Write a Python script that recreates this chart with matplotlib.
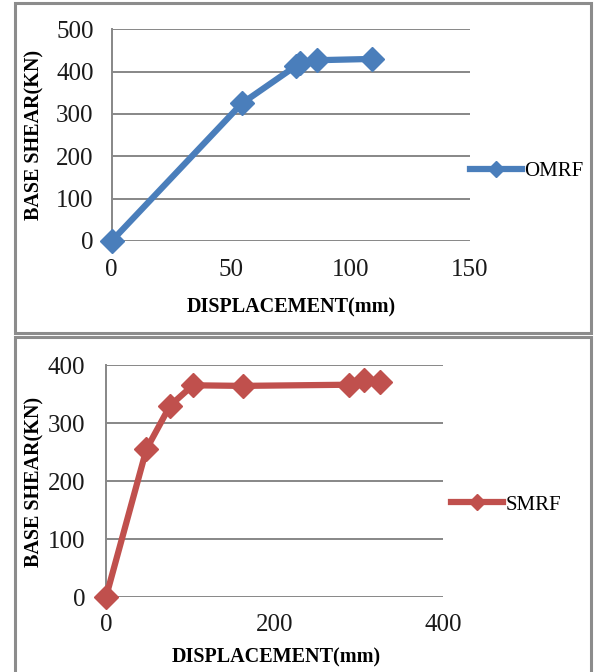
import matplotlib
matplotlib.use("Agg")
import matplotlib.pyplot as plt
from matplotlib.patches import Rectangle

# ---- data ----
omrf_disp = [0, 54.5, 77, 79, 86, 109]
omrf_shear = [0, 325, 413, 421, 427, 430]
smrf_disp = [0, 48, 76, 103, 162, 288, 306, 325]
smrf_shear = [0, 255, 330, 365, 364, 366, 374, 371]
omrf_xticks = [0, 50, 100, 150]
omrf_yticks = [0, 100, 200, 300, 400, 500]
smrf_xticks = [0, 200, 400]
smrf_yticks = [0, 100, 200, 300, 400]

W, H = 594, 672
plt.rcParams['font.family'] = ['Liberation Serif', 'DejaVu Serif']
fig = plt.figure(figsize=(W / 100, H / 100), dpi=100)

GRID = '#878787'
BLUE = '#4A7EBB'
RED = '#C0504D'


def fx(px):
    return px / W


def fy(py):
    return 1 - py / H


# panel borders
for (x0, y0, x1, y1) in [(15, 3, 591, 333), (15, 337, 591, 674)]:
    fig.add_artist(Rectangle((fx(x0), fy(y1)), fx(x1) - fx(x0), fy(y0) - fy(y1),
                             transform=fig.transFigure, fill=False,
                             edgecolor='#8c8c8c', linewidth=2.2))


def make_panel(box, xs, ys, xt, yt, color, name, tick_fs, xlabel_pos, ylabel_pos, leg_pos, ypad, xpad):
    l, t, r, b = box
    ax = fig.add_axes([fx(l), fy(b), fx(r) - fx(l), fy(t) - fy(b)])
    ax.set_xlim(xt[0], xt[-1])
    ax.set_ylim(yt[0], yt[-1])
    ax.set_xticks(xt)
    ax.set_yticks(yt)
    ax.tick_params(length=0, labelsize=tick_fs, colors='#1a1a1a')
    ax.tick_params(axis='y', pad=ypad)
    ax.tick_params(axis='x', pad=xpad)
    for s in ['top', 'right', 'bottom']:
        ax.spines[s].set_visible(False)
    ax.spines['left'].set_color(GRID)
    ax.spines['left'].set_linewidth(1.4)
    ax.yaxis.grid(True, color=GRID, linewidth=1.4)
    ax.set_axisbelow(True)
    ax.plot(xs, ys, color=color, linewidth=4.5, marker='D', markersize=12,
            clip_on=False, zorder=3, label=name)
    fig.text(fx(xlabel_pos[0]), fy(xlabel_pos[1]), 'DISPLACEMENT(mm)', ha='center', va='center',
             fontsize=14.5, fontweight='bold')
    fig.text(fx(ylabel_pos[0]), fy(ylabel_pos[1]), 'BASE SHEAR(KN)', ha='center', va='center',
             rotation=90, fontsize=14.5, fontweight='bold')
    ax.legend(loc='center left', bbox_to_anchor=(fx(leg_pos[0]), fy(leg_pos[1])),
              bbox_transform=fig.transFigure, frameon=False, fontsize=15,
              handlelength=2.5, handletextpad=0.12, borderpad=0, borderaxespad=0,
              markerscale=0.65)
    return ax


make_panel((111.7, 29.3, 470, 241), omrf_disp, omrf_shear, omrf_xticks, omrf_yticks,
           BLUE, 'OMRF', 18, (291, 307), (34, 135), (470, 171), 13, 13)
make_panel((106, 365, 443.3, 597), smrf_disp, smrf_shear, smrf_xticks, smrf_yticks,
           RED, 'SMRF', 18, (276, 657), (34, 482), (451, 505), 15, 12)

fig.savefig('out.png', dpi=100)
